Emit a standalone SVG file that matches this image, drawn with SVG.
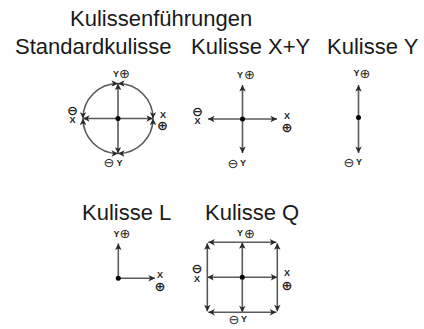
<svg xmlns="http://www.w3.org/2000/svg" width="424" height="329" viewBox="0 0 424 329">
  <style>
    .title { font-family: "Liberation Sans", Arial, sans-serif; font-size: 22px; fill: #1a1a1a; }
    .lbl { font-family: "Liberation Sans", Arial, sans-serif; font-size: 9px; font-weight: bold; fill: #222; text-anchor: middle; }
    .sym { font-family: "DejaVu Sans", sans-serif; font-size: 13px; fill: #222; text-anchor: middle; }
    .ln { fill: none; stroke: #5a5a5a; stroke-width: 1.6; }
    .dot { fill: #000; }
  </style>
  <defs>
    <marker id="ah" viewBox="0 0 10 10" refX="10" refY="5" markerUnits="userSpaceOnUse" markerWidth="9" markerHeight="6.5" orient="auto-start-reverse">
      <path d="M0,0 L10,5 L0,10 L2.5,5 z" fill="#2a2a2a"/>
    </marker>
  </defs>
  <rect width="424" height="329" fill="#fff"/>

  <text class="title" x="70" y="26">Kulissenführungen</text>

  <g id="connectors">
    <!-- Standardkulisse -->
    <g class="ln" marker-end="url(#ah)">
      <line x1="118" y1="118.5" x2="118" y2="83.5"/>
      <line x1="118" y1="118.5" x2="118" y2="153.5"/>
      <line x1="118" y1="118.5" x2="83" y2="118.5"/>
      <line x1="118" y1="118.5" x2="153" y2="118.5"/>
    </g>
    <g class="ln" marker-start="url(#ah)" marker-end="url(#ah)">
      <path d="M118,83.5 A35,35 0 0 1 153,118.5"/>
      <path d="M153,118.5 A35,35 0 0 1 118,153.5"/>
      <path d="M118,153.5 A35,35 0 0 1 83,118.5"/>
      <path d="M83,118.5 A35,35 0 0 1 118,83.5"/>
    </g>
    <!-- Kulisse X+Y -->
    <g class="ln" marker-end="url(#ah)">
      <line x1="242.5" y1="119" x2="242.5" y2="85"/>
      <line x1="242.5" y1="119" x2="242.5" y2="153"/>
      <line x1="242.5" y1="119" x2="208" y2="119"/>
      <line x1="242.5" y1="119" x2="277" y2="119"/>
    </g>
    <!-- Kulisse Y -->
    <g class="ln" marker-end="url(#ah)">
      <line x1="358.5" y1="117.5" x2="358.5" y2="85"/>
      <line x1="358.5" y1="117.5" x2="358.5" y2="153"/>
    </g>
    <!-- Kulisse L -->
    <g class="ln" marker-end="url(#ah)">
      <line x1="118.3" y1="278.3" x2="118.3" y2="243.5"/>
      <line x1="118.3" y1="278.3" x2="155" y2="278.3"/>
    </g>
    <!-- Kulisse Q -->
    <g class="ln" marker-end="url(#ah)">
      <line x1="242.3" y1="277.3" x2="242.3" y2="242.3"/>
      <line x1="242.3" y1="277.3" x2="242.3" y2="312.3"/>
      <line x1="242.3" y1="277.3" x2="207.3" y2="277.3"/>
      <line x1="242.3" y1="277.3" x2="277.3" y2="277.3"/>
      <line x1="242.3" y1="242.3" x2="208.3" y2="242.3"/>
      <line x1="242.3" y1="242.3" x2="276.3" y2="242.3"/>
      <line x1="242.3" y1="312.3" x2="208.3" y2="312.3"/>
      <line x1="242.3" y1="312.3" x2="276.3" y2="312.3"/>
      <line x1="207.3" y1="277.3" x2="207.3" y2="243.3"/>
      <line x1="207.3" y1="277.3" x2="207.3" y2="311.3"/>
      <line x1="277.3" y1="277.3" x2="277.3" y2="243.3"/>
      <line x1="277.3" y1="277.3" x2="277.3" y2="311.3"/>
    </g>
  </g>

  <g id="standardkulisse">
    <text class="title" x="15" y="54">Standardkulisse</text>
    <circle class="dot" cx="118" cy="118.5" r="2.5"/>
    <text class="lbl" x="116" y="76.5">Y</text>
    <text class="sym" x="124.5" y="78">⊕</text>
    <text class="lbl"><tspan class="sym" x="72.5" y="115.2">⊖</tspan><tspan x="72.5" y="123.2">X</tspan></text>
    <text class="lbl"><tspan x="163" y="118.2">X</tspan><tspan class="sym" x="162.5" y="130.2">⊕</tspan></text>
    <text class="sym" x="109" y="167.2">⊖</text>
    <text class="lbl" x="119.5" y="165.7">Y</text>
  </g>

  <g id="kulisse-xy">
    <text class="title" x="191" y="54">Kulisse X+Y</text>
    <circle class="dot" cx="242.5" cy="119" r="2.5"/>
    <text class="lbl" x="240" y="77.7">Y</text>
    <text class="sym" x="249.5" y="79.2">⊕</text>
    <text class="lbl"><tspan class="sym" x="197.5" y="115.7">⊖</tspan><tspan x="197.5" y="123.7">X</tspan></text>
    <text class="lbl"><tspan x="287" y="118.7">X</tspan><tspan class="sym" x="287" y="132.2">⊕</tspan></text>
    <text class="sym" x="233" y="167.7">⊖</text>
    <text class="lbl" x="243" y="166.2">Y</text>
  </g>

  <g id="kulisse-y">
    <text class="title" x="327" y="54">Kulisse Y</text>
    <circle class="dot" cx="358.5" cy="117.5" r="2.5"/>
    <text class="lbl" x="356.5" y="76.2">Y</text>
    <text class="sym" x="365" y="77.7">⊕</text>
    <text class="sym" x="349" y="166.7">⊖</text>
    <text class="lbl" x="359" y="165.2">Y</text>
  </g>

  <g id="kulisse-l">
    <text class="title" x="82" y="220">Kulisse L</text>
    <circle class="dot" cx="118.3" cy="278.3" r="2.5"/>
    <text class="lbl" x="116.5" y="236.7">Y</text>
    <text class="sym" x="125" y="238.2">⊕</text>
    <text class="lbl"><tspan x="160" y="277.5">X</tspan><tspan class="sym" x="160" y="290.7">⊕</tspan></text>
  </g>

  <g id="kulisse-q">
    <text class="title" x="205" y="220">Kulisse Q</text>
    <circle class="dot" cx="242.3" cy="277.3" r="2.5"/>
    <text class="lbl" x="240" y="236.2">Y</text>
    <text class="sym" x="249.5" y="237.7">⊕</text>
    <text class="lbl"><tspan class="sym" x="197" y="273.2">⊖</tspan><tspan x="197" y="282.2">X</tspan></text>
    <text class="lbl"><tspan x="287" y="276.2">X</tspan><tspan class="sym" x="287" y="290.2">⊕</tspan></text>
    <text class="sym" x="234" y="323.7">⊖</text>
    <text class="lbl" x="244" y="322.2">Y</text>
  </g>
</svg>
